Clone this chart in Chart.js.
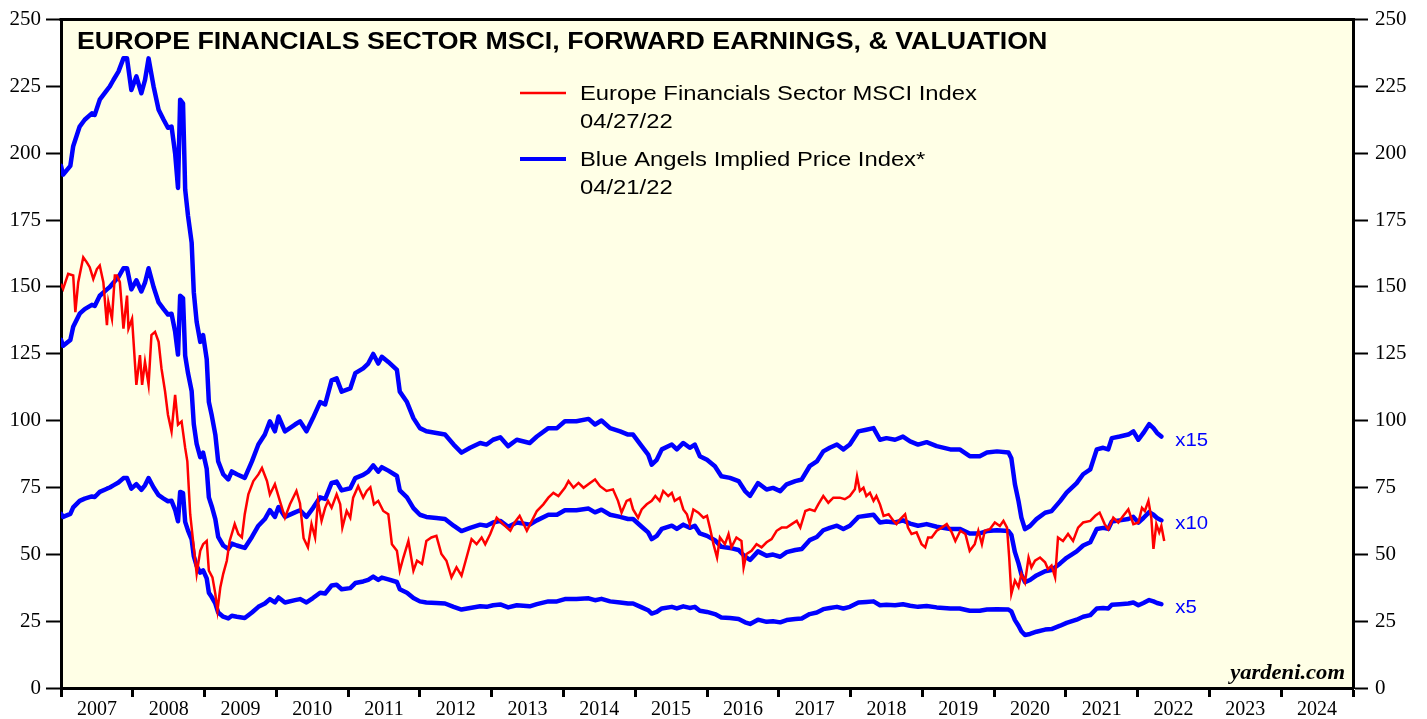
<!DOCTYPE html>
<html>
<head>
<meta charset="utf-8">
<script src="https://cdn.jsdelivr.net/npm/chart.js@4.4.1/dist/chart.umd.min.js"></script>
<style>
  html, body { margin: 0; padding: 0; background: #ffffff; }
  #wrap { width: 1427px; height: 719px; }
</style>
</head>
<body>
<div id="wrap"><canvas id="c" width="1427" height="719"></canvas></div>
<script>
// ---------------- DATA ----------------
const yearLabels = ['2007','2008','2009','2010','2011','2012','2013','2014','2015','2016','2017','2018','2019','2020','2021','2022','2023','2024'];
const yTickValues = [0, 25, 50, 75, 100, 125, 150, 175, 200, 225, 250];

// Europe Financials Sector MSCI Index (decimal year, index level)
const redDates = [
  2007.00,2007.03,2007.10,2007.17,2007.20,2007.24,2007.31,2007.36,2007.40,2007.45,
  2007.50,2007.54,2007.59,2007.64,2007.66,2007.71,2007.75,2007.78,2007.82,2007.87,
  2007.92,2007.94,2007.99,2008.05,2008.10,2008.13,2008.17,2008.22,2008.26,2008.31,
  2008.36,2008.40,2008.45,2008.49,2008.54,2008.59,2008.63,2008.68,2008.73,2008.76,
  2008.80,2008.84,2008.89,2008.94,2008.98,2009.03,2009.06,2009.11,2009.15,2009.18,
  2009.22,2009.26,2009.31,2009.35,2009.42,2009.47,2009.52,2009.56,2009.61,2009.68,
  2009.75,2009.80,2009.87,2009.91,2009.98,2010.05,2010.12,2010.19,2010.28,2010.33,
  2010.38,2010.44,2010.49,2010.54,2010.58,2010.63,2010.68,2010.72,2010.77,2010.84,
  2010.89,2010.92,2010.98,2011.03,2011.07,2011.14,2011.21,2011.26,2011.31,2011.36,
  2011.42,2011.49,2011.56,2011.61,2011.68,2011.72,2011.77,2011.84,2011.91,2011.96,
  2012.03,2012.09,2012.16,2012.23,2012.30,2012.37,2012.44,2012.51,2012.58,2012.65,
  2012.72,2012.79,2012.86,2012.91,2012.98,2013.07,2013.16,2013.26,2013.32,2013.39,
  2013.49,2013.56,2013.63,2013.72,2013.79,2013.86,2013.93,2014.02,2014.07,2014.14,
  2014.21,2014.28,2014.37,2014.44,2014.51,2014.60,2014.69,2014.76,2014.81,2014.88,
  2014.93,2014.97,2015.04,2015.09,2015.16,2015.23,2015.28,2015.34,2015.39,2015.46,
  2015.51,2015.55,2015.62,2015.67,2015.72,2015.76,2015.81,2015.88,2015.95,2016.00,
  2016.04,2016.09,2016.14,2016.18,2016.25,2016.30,2016.34,2016.41,2016.48,2016.51,
  2016.55,2016.62,2016.69,2016.76,2016.83,2016.90,2016.97,2017.04,2017.11,2017.18,
  2017.25,2017.30,2017.37,2017.43,2017.50,2017.55,2017.62,2017.69,2017.76,2017.85,
  2017.92,2017.99,2018.06,2018.09,2018.13,2018.18,2018.22,2018.27,2018.32,2018.36,
  2018.41,2018.46,2018.53,2018.60,2018.64,2018.69,2018.76,2018.80,2018.85,2018.92,
  2018.99,2019.04,2019.08,2019.13,2019.20,2019.27,2019.34,2019.41,2019.46,2019.53,
  2019.60,2019.66,2019.73,2019.78,2019.83,2019.87,2019.94,2020.01,2020.08,2020.13,
  2020.18,2020.21,2020.24,2020.29,2020.34,2020.38,2020.43,2020.48,2020.52,2020.57,
  2020.64,2020.71,2020.75,2020.80,2020.85,2020.89,2020.96,2021.03,2021.10,2021.17,
  2021.24,2021.34,2021.41,2021.47,2021.54,2021.59,2021.66,2021.73,2021.80,2021.87,
  2021.94,2022.01,2022.06,2022.10,2022.15,2022.19,2022.22,2022.26,2022.30,2022.33,
  2022.37
];
const redValues = [
  151.2,149.3,154.9,154.3,140.6,151.8,161.1,159.2,157.4,153.0,
  156.7,158.0,151.8,135.7,144.3,138.1,154.3,154.3,151.8,134.4,
  146.8,134.4,138.1,113.4,124.5,113.4,122.0,113.4,132.0,133.2,
  129.5,119.5,110.9,102.2,96.0,109.6,98.5,99.7,89.8,84.8,
  65.0,55.0,42.7,51.3,53.8,55.0,43.9,41.4,35.2,29.0,
  37.7,42.7,47.6,55.0,61.3,57.6,56.3,65.0,72.4,77.4,
  79.9,82.3,77.4,72.4,76.2,69.9,63.7,68.7,73.7,69.0,
  56.0,52.6,61.3,56.3,70.0,62.5,67.4,70.0,67.4,72.4,
  68.7,60.0,66.2,63.7,71.2,75.5,71.2,73.7,75.1,68.7,
  70.0,66.2,65.0,53.8,51.3,43.9,48.8,55.0,43.9,47.6,
  46.4,55.0,56.3,56.9,50.1,47.6,41.4,45.1,42.0,48.8,
  55.7,53.8,56.3,53.8,57.6,63.7,61.3,58.8,61.9,64.4,
  58.8,62.5,66.2,68.7,71.2,73.0,71.8,74.9,77.4,74.9,
  76.7,74.9,76.7,78.0,75.5,73.7,74.3,70.0,65.6,70.0,
  70.6,66.8,63.7,66.8,68.7,70.0,71.8,70.0,73.7,71.8,
  73.0,70.0,71.2,66.8,65.0,61.3,66.8,65.6,63.7,64.4,
  60.0,53.8,48.8,56.3,53.8,57.6,52.6,56.3,55.0,45.1,
  50.1,51.3,53.8,52.6,54.5,55.7,58.8,60.0,60.0,61.3,
  62.5,60.0,66.2,66.8,66.2,68.7,71.8,69.3,71.2,71.2,
  70.6,71.8,74.3,79.2,73.7,74.9,71.8,73.0,70.0,71.8,
  68.7,64.4,65.0,62.5,61.3,63.1,65.0,60.0,57.6,58.2,
  53.8,52.6,56.3,56.3,58.8,60.0,61.3,58.2,55.0,58.8,
  57.6,51.3,53.8,58.8,53.8,58.8,59.4,61.9,60.6,62.5,
  60.0,48.8,35.2,40.2,37.7,42.7,39.5,48.8,45.1,47.6,
  48.8,47.0,44.5,45.8,41.4,56.3,55.0,57.6,55.0,60.0,
  61.9,62.5,64.4,65.6,61.3,59.4,63.7,61.9,64.4,66.8,
  61.3,61.9,67.4,66.2,70.0,63.7,52.0,61.3,58.2,60.6,
  55.0
];

// Forward earnings (decimal year, EPS) behind the Blue Angels implied price index
const blueDates = [
  2007.00,2007.03,2007.13,2007.17,2007.26,2007.33,2007.43,2007.47,2007.54,2007.64,
  2007.68,2007.73,2007.80,2007.87,2007.92,2007.98,2008.05,2008.12,2008.17,2008.22,
  2008.29,2008.36,2008.43,2008.49,2008.54,2008.59,2008.63,2008.66,2008.70,2008.73,
  2008.77,2008.82,2008.85,2008.89,2008.94,2008.98,2009.03,2009.06,2009.10,2009.15,
  2009.19,2009.26,2009.33,2009.38,2009.45,2009.56,2009.66,2009.75,2009.84,2009.91,
  2009.98,2010.03,2010.12,2010.26,2010.33,2010.42,2010.51,2010.61,2010.68,2010.77,
  2010.84,2010.91,2011.03,2011.10,2011.21,2011.28,2011.35,2011.42,2011.47,2011.56,
  2011.68,2011.72,2011.82,2011.91,2012.00,2012.09,2012.23,2012.35,2012.47,2012.58,
  2012.70,2012.84,2012.93,2013.02,2013.12,2013.23,2013.35,2013.53,2013.63,2013.79,
  2013.91,2014.02,2014.18,2014.35,2014.44,2014.53,2014.65,2014.79,2014.90,2014.97,
  2015.09,2015.18,2015.23,2015.30,2015.37,2015.51,2015.58,2015.67,2015.76,2015.83,
  2015.90,2016.00,2016.11,2016.20,2016.32,2016.44,2016.53,2016.60,2016.71,2016.83,
  2016.92,2017.02,2017.11,2017.23,2017.32,2017.43,2017.53,2017.62,2017.71,2017.81,
  2017.90,2017.99,2018.11,2018.22,2018.32,2018.41,2018.50,2018.62,2018.73,2018.83,
  2018.94,2019.06,2019.20,2019.39,2019.52,2019.66,2019.80,2019.90,2020.04,2020.20,
  2020.24,2020.29,2020.34,2020.38,2020.43,2020.50,2020.59,2020.71,2020.80,2020.92,
  2021.01,2021.15,2021.24,2021.34,2021.43,2021.52,2021.59,2021.64,2021.75,2021.87,
  2021.94,2022.01,2022.08,2022.16,2022.22,2022.27,2022.33
];
const forwardEarnings = [
  13.02,12.80,13.02,13.51,14.00,14.17,14.33,14.29,14.67,14.91,
  15.00,15.16,15.37,15.70,15.70,14.91,15.25,14.83,15.16,15.70,
  15.00,14.42,14.17,13.97,14.00,13.33,12.47,14.67,14.58,12.43,
  11.77,11.11,9.87,9.13,8.63,8.80,8.20,7.13,6.80,6.32,
  5.65,5.33,5.20,5.40,5.33,5.24,5.65,6.07,6.32,6.65,
  6.40,6.77,6.40,6.57,6.65,6.40,6.73,7.13,7.07,7.67,
  7.72,7.39,7.47,7.85,7.97,8.09,8.33,8.09,8.26,8.13,
  7.93,7.39,7.13,6.73,6.48,6.40,6.36,6.32,6.07,5.87,
  5.99,6.11,6.07,6.19,6.25,6.03,6.19,6.11,6.27,6.48,
  6.48,6.65,6.65,6.71,6.57,6.67,6.48,6.40,6.32,6.32,
  6.03,5.82,5.57,5.69,5.95,6.07,5.95,6.11,5.99,6.07,
  5.78,5.69,5.53,5.28,5.24,5.16,4.91,4.79,5.11,4.95,
  4.99,4.91,5.08,5.16,5.20,5.53,5.65,5.90,5.99,6.07,
  5.95,6.07,6.40,6.44,6.48,6.19,6.23,6.19,6.27,6.15,
  6.07,6.13,6.03,5.95,5.95,5.78,5.78,5.87,5.90,5.87,
  5.73,5.08,4.66,4.25,3.96,4.04,4.21,4.37,4.41,4.66,
  4.87,5.11,5.33,5.45,5.95,5.99,5.95,6.23,6.27,6.32,
  6.40,6.19,6.36,6.58,6.48,6.36,6.27
];
const peMultiples = [15, 10, 5];
const multipleLabels = ['x15', 'x10', 'x5'];

const titleText = 'EUROPE FINANCIALS SECTOR MSCI, FORWARD EARNINGS, & VALUATION';
const legendItems = [
  { lines: ['Europe Financials Sector MSCI Index', '04/27/22'], color: '#ff0000', width: 2.5 },
  { lines: ['Blue Angels Implied Price Index*', '04/21/22'], color: '#0000ff', width: 4 }
];
const sourceText = 'yardeni.com';

// ---------------- CHART ----------------
const SERIF = '"Liberation Serif", "Times New Roman", Times, serif';
const SANS = '"Liberation Sans", Arial, Helvetica, sans-serif';

const redData = redDates.map((d, i) => ({ x: d, y: redValues[i] }));
const blueSets = peMultiples.map((m) => ({
  label: 'x' + m,
  data: blueDates.map((d, i) => ({ x: d, y: forwardEarnings[i] * m })),
  borderColor: '#0000ff',
  borderWidth: 4.5,
  pointRadius: 0,
  tension: 0,
  xAxisID: 'x',
  yAxisID: 'y',
  borderJoinStyle: 'round',
  borderCapStyle: 'round'
}));

// draw text stretched horizontally by sx (the reference lettering is wide)
function wideText(ctx, text, x, y, sx, align) {
  ctx.save();
  ctx.translate(x, y);
  ctx.scale(sx, 1);
  ctx.textAlign = align || 'left';
  ctx.fillText(text, 0, 0);
  ctx.restore();
}

const decorPlugin = {
  id: 'decor',
  beforeDraw(chart) {
    const { ctx, chartArea: a } = chart;
    ctx.save();
    ctx.fillStyle = '#ffffff';
    ctx.fillRect(0, 0, chart.width, chart.height);
    ctx.fillStyle = '#ffffe6';
    ctx.fillRect(a.left, a.top, a.right - a.left, a.bottom - a.top);
    ctx.restore();
  },
  afterDraw(chart) {
    const { ctx, chartArea: a } = chart;
    const xs = chart.scales.x, ys = chart.scales.y;
    ctx.save();
    // top frame line
    ctx.strokeStyle = '#000';
    ctx.lineWidth = 3;
    ctx.beginPath();
    ctx.moveTo(a.left - 1.5, a.top);
    ctx.lineTo(a.right + 1.5, a.top);
    ctx.stroke();

    ctx.textBaseline = 'alphabetic';
    // title
    ctx.fillStyle = '#000';
    ctx.font = 'bold 24px ' + SANS;
    wideText(ctx, titleText, a.left + 16, a.top + 29, 1.115);

    // legend
    ctx.font = '20px ' + SANS;
    const legX = 520, legTextX = 580;
    const legY = [93, 159];
    legendItems.forEach((it, k) => {
      ctx.strokeStyle = it.color;
      ctx.lineWidth = it.width;
      ctx.beginPath();
      ctx.moveTo(legX, legY[k]);
      ctx.lineTo(legX + 46, legY[k]);
      ctx.stroke();
      ctx.fillStyle = '#000';
      it.lines.forEach((t, j) => wideText(ctx, t, legTextX, legY[k] + 7 + j * 28, 1.19));
    });

    // multiple labels at the end of each blue line
    ctx.fillStyle = '#0000ff';
    ctx.font = '19px ' + SANS;
    const lastI = blueDates.length - 1;
    peMultiples.forEach((m, k) => {
      const px = xs.getPixelForValue(blueDates[lastI]) + 14;
      const py = ys.getPixelForValue(forwardEarnings[lastI] * m) + 9;
      wideText(ctx, multipleLabels[k], px, py, 1.07);
    });

    // source
    ctx.fillStyle = '#000';
    ctx.font = 'italic bold 20px ' + SERIF;
    wideText(ctx, sourceText, a.right - 8, a.bottom - 9, 1.13, 'right');
    ctx.restore();
  }
};

const yAxisCommon = {
  type: 'linear',
  min: 0,
  max: 250,
  afterBuildTicks(scale) { scale.ticks = yTickValues.map(v => ({ value: v })); },
  grid: { drawOnChartArea: false, drawTicks: true, tickLength: 15, tickWidth: 2, color: '#000', tickColor: '#000' },
  border: { display: true, color: '#000', width: 3 },
  ticks: { color: '#000', font: { family: SERIF, size: 21 }, padding: 5 }
};

new Chart(document.getElementById('c'), {
  type: 'line',
  data: {
    datasets: [
      {
        label: 'Europe Financials Sector MSCI Index',
        data: redData,
        borderColor: '#ff0000',
        borderWidth: 2.5,
        pointRadius: 0,
        tension: 0,
        xAxisID: 'x',
        yAxisID: 'y'
      },
      ...blueSets
    ]
  },
  options: {
    responsive: false,
    animation: false,
    devicePixelRatio: 1,
    layout: { padding: { top: 16, left: 0, right: 0, bottom: 0 } },
    plugins: { legend: { display: false }, tooltip: { enabled: false } },
    scales: {
      x: { type: 'linear', min: 2007, max: 2025, display: false },
      xYears: {
        type: 'category',
        labels: yearLabels,
        position: 'bottom',
        offset: true,
        afterFit(scale) { scale.height = 31; },
        grid: { offset: true, drawOnChartArea: false, drawTicks: true, tickLength: 9, tickWidth: 3, color: '#000', tickColor: '#000' },
        border: { display: true, color: '#000', width: 3 },
        ticks: { color: '#000', font: { family: SERIF, size: 20 }, padding: 1, maxRotation: 0, autoSkip: false }
      },
      y: Object.assign({}, yAxisCommon, { position: 'left', afterFit(scale) { scale.width = 61; } }),
      y2: Object.assign({}, yAxisCommon, { position: 'right', afterFit(scale) { scale.width = 74; },
        ticks: { color: '#000', font: { family: SERIF, size: 21 }, padding: 7 } })
    }
  },
  plugins: [decorPlugin]
});
</script>
</body>
</html>
